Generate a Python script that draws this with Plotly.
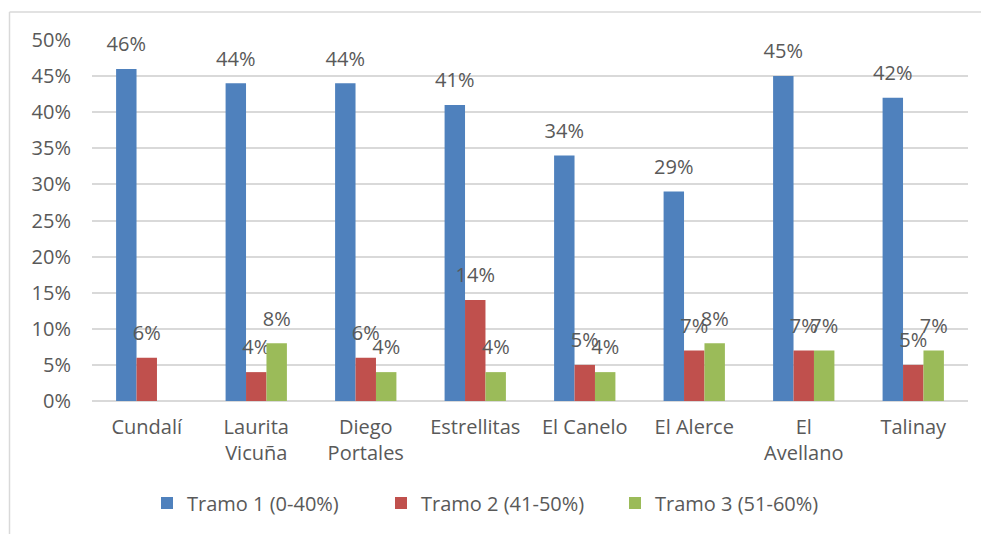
import plotly.graph_objects as go

categories = ["Cundalí", "Laurita<br>Vicuña", "Diego<br>Portales", "Estrellitas",
              "El Canelo", "El Alerce", "El<br>Avellano", "Talinay"]
series_names = ["Tramo 1 (0-40%)", "Tramo 2 (41-50%)", "Tramo 3 (51-60%)"]
tramo1 = [46, 44, 44, 41, 34, 29, 45, 42]
tramo2 = [6, 4, 6, 14, 5, 7, 7, 5]
tramo3 = [None, 8, 4, 4, 4, 8, 7, 7]
y_ticks = [0, 5, 10, 15, 20, 25, 30, 35, 40, 45, 50]
y_tick_labels = [f"{v}%" for v in y_ticks]

colors = ["#4F81BD", "#C0504D", "#9BBB59"]
FONT = "Open Sans"
TXT = "#595959"

W, H = 981, 534
L, R, T, B = 92, 968, 40, 401


def label(v):
    if v is None:
        return ""
    return (f"<span style='font-size:20px'>{v}%</span>"
            f"<br><span style='font-size:9px'> </span>")


fig = go.Figure()
for name, vals, col in zip(series_names, [tramo1, tramo2, tramo3], colors):
    fig.add_trace(go.Bar(
        x=categories, y=vals, name=name, marker_color=col,
        marker_line_width=0,
        text=[label(v) for v in vals],
        textposition="outside", constraintext="none", cliponaxis=False,
        textfont=dict(family=FONT, size=9, color=TXT),
    ))

bx0 = (9.5 - L) / (R - L)
bx1 = (1000 - L) / (R - L)
by0 = (B - 560) / (B - T)
by1 = (B - 12) / (B - T)
border = dict(color="#D9D9D9", width=1.5)

fig.update_layout(
    width=W, height=H,
    margin=dict(l=L, r=W - R, t=T, b=H - B, autoexpand=False),
    paper_bgcolor="white", plot_bgcolor="white",
    barmode="group", bargap=0.44, bargroupgap=0,
    font=dict(family=FONT, size=20, color=TXT),
    showlegend=True,
    legend=dict(orientation="h", x=(147 - L) / (R - L), xanchor="left",
                y=(B - 503) / (B - T), yanchor="middle",
                font=dict(family=FONT, size=20, color=TXT),
                itemwidth=30, tracegroupgap=0, entrywidth=189),
    xaxis=dict(showgrid=False, showline=False, ticks="", tickfont=dict(size=20),
               ticklabelstandoff=12),
    yaxis=dict(range=[0, 50], tickvals=y_ticks, ticktext=y_tick_labels,
               showgrid=True, gridcolor="#D9D9D9", gridwidth=1.5,
               zeroline=True, zerolinecolor="#D9D9D9", zerolinewidth=1.5,
               showline=False, ticks="", ticklabelstandoff=20,
               tickfont=dict(size=20)),
    shapes=[
        dict(type="line", xref="paper", yref="paper", x0=bx0, x1=bx1, y0=by1, y1=by1,
             line=border, layer="below"),
        dict(type="line", xref="paper", yref="paper", x0=bx0, x1=bx0, y0=by0, y1=by1,
             line=border, layer="below"),
    ],
)

fig.write_html(
    "out.html",
    config={"displayModeBar": False},
    post_script="document.body.style.margin='0';document.body.style.overflow='hidden';",
)
